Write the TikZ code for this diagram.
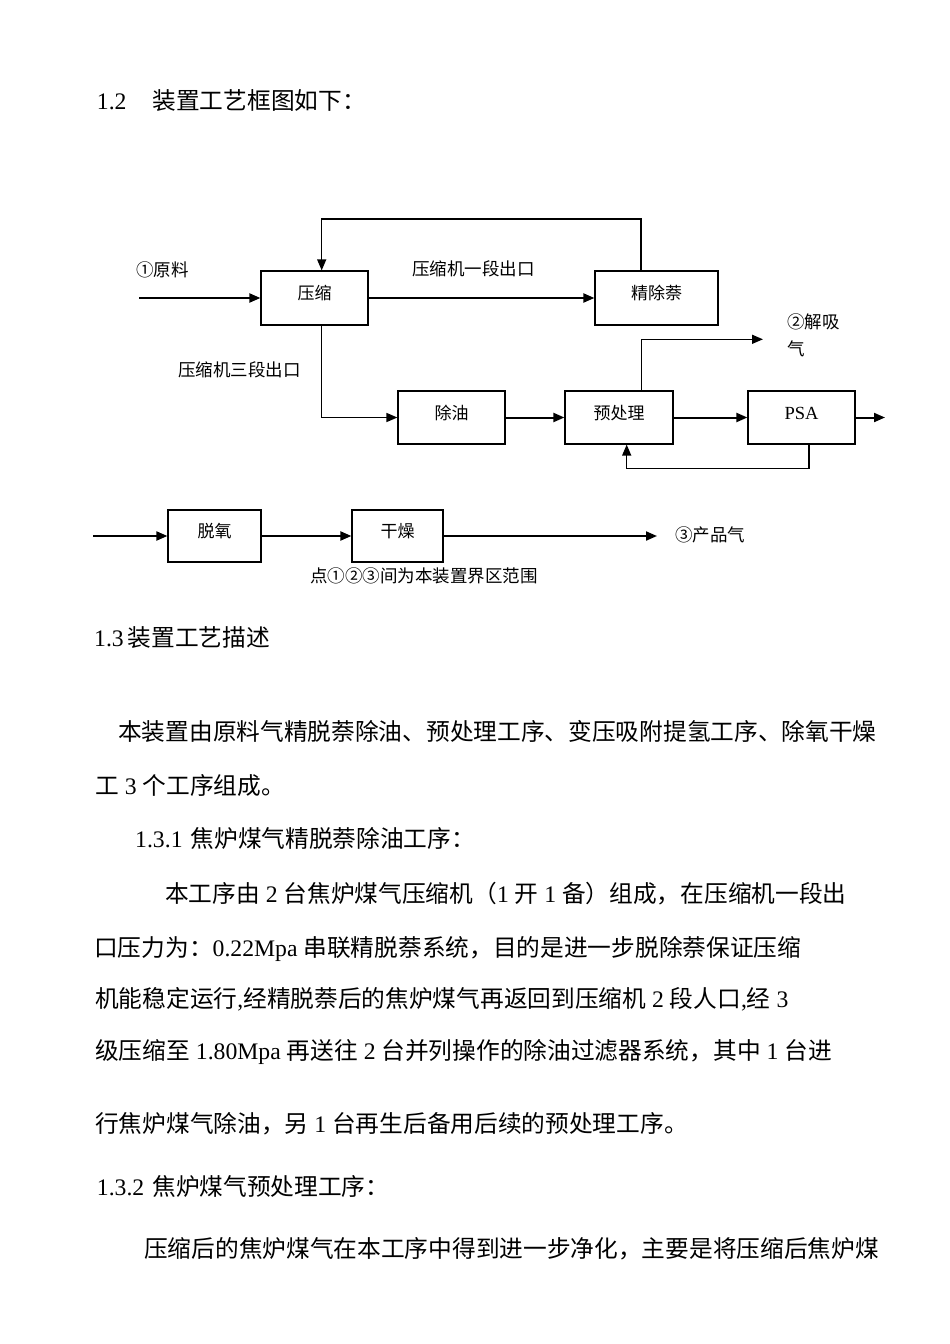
\documentclass[tikz,border=0pt]{standalone}
\usepackage{fontspec}
\setmainfont{Noto Sans CJK SC}
\newfontfamily\latn{Liberation Serif}
\usetikzlibrary{arrows.meta}
\newcommand\Lt[1]{{\latn #1}}
\tikzset{
  box/.style={draw=black, line width=1.2pt, inner sep=0pt, text height=13pt, text depth=10pt, font=\fontsize{17}{20}\selectfont},
  flowA/.style={line width=2pt, -{Triangle[length=11pt,width=9pt]}},
  flowB/.style={line width=1.4pt, -{Triangle[length=11pt,width=9pt]}},
  lab/.style={font=\fontsize{17.5}{27}\selectfont, inner sep=0pt, anchor=base west},
  body/.style={font=\fontsize{23.7}{28}\selectfont, anchor=base west, inner sep=0pt},
}
\begin{document}
\begin{tikzpicture}[x=1pt,y=-1pt]
\useasboundingbox[fill=white] (0,0) rectangle (950,1344);

% ---- diagram boxes ----
\node[box, minimum width=107pt, minimum height=54pt] (ys)  at (314.5,298) {压缩};
\node[box, minimum width=123pt, minimum height=54pt] (jcn) at (656.5,298) {精除萘};
\node[box, minimum width=107pt, minimum height=53pt] (cy)  at (451.5,417.5) {除油};
\node[box, minimum width=108pt, minimum height=53pt] (yc)  at (619,417.5) {预处理};
\node[box, minimum width=107pt, minimum height=53pt, text height=13pt, text depth=9pt, font=\latn\fontsize{18.5}{22}\selectfont] (psa) at (801.5,417.5) {PSA};
\node[box, minimum width=93pt, minimum height=52pt] (ty) at (214.5,536) {脱氧};
\node[box, minimum width=91pt, minimum height=52pt] (gz) at (397.5,536) {干燥};

% ---- helper coordinates ----
\coordinate (in1) at (139,298);
\coordinate (fb1) at (641,219);
\coordinate (fb2) at (321.7,219);
\coordinate (c1) at (321.7,417.5);
\coordinate (out1) at (885,417.5);
\coordinate (d1) at (641.7,339.3);
\coordinate (d2) at (763,339.3);
\coordinate (e1) at (809,468.7);
\coordinate (e2) at (626.7,468.7);
\coordinate (r1) at (93,536);
\coordinate (r2) at (657,536);

% ---- connectors ----
\draw[flowA] (in1) -- (ys.west);
\draw[flowA] (ys.east) -- (jcn.west);
\draw[flowB] (jcn.north -| fb1) -- (fb1) -- (fb2) -- (ys.north -| fb2);
\draw[flowB] (ys.south -| c1) -- (c1) -- (cy.west);
\draw[flowA] (cy.east) -- (yc.west);
\draw[flowA] (yc.east) -- (psa.west);
\draw[flowA] (psa.east) -- (out1);
\draw[flowB] (yc.north -| d1) -- (d1) -- (d2);
\draw[flowB] (psa.south -| e1) -- (e1) -- (e2) -- (yc.south -| e2);
\draw[flowA] (r1) -- (ty.west);
\draw[flowA] (ty.east) -- (gz.west);
\draw[flowA] (gz.east) -- (r2);

% ---- diagram labels ----
\node[lab] (l1) at (136,276.6) {①原料};
\node[lab] (l2) at (412,275.6) {压缩机一段出口};
\node[lab] (l3) at (178,376.6) {压缩机三段出口};
\node[lab, anchor=north west, align=left] (l4) at (787,313) {②解吸\\气};
\node[lab] (l5) at (675,541.6) {③产品气};
\node[lab] (l6) at (310,582.6) {点①②③间为本装置界区范围};

% ---- body text ----
\node[body] (t1) at (96.7,109) {\Lt{1.2}\hspace{26pt}装置工艺框图如下：};
\node[body] (t2) at (94,646) {\Lt{1.3}\hspace{4pt}装置工艺描述};
\node[body] (t3) at (118,740) {本装置由原料气精脱萘除油、预处理工序、变压吸附提氢工序、除氧干燥};
\node[body] (t4) at (95,794) {工\Lt{ 3 }个工序组成。};
\node[body] (t5) at (135,847) {\Lt{1.3.1}\hspace{8pt}焦炉煤气精脱萘除油工序：};
\node[body] (t6) at (165,902) {本工序由\Lt{ 2 }台焦炉煤气压缩机（\Lt{1 }开\Lt{ 1 }备）组成，在压缩机一段出};
\node[body] (t7) at (94,956) {口压力为：\Lt{0.22Mpa }串联精脱萘系统，目的是进一步脱除萘保证压缩};
\node[body] (t8) at (95,1007) {机能稳定运行\Lt{,}经精脱萘后的焦炉煤气再返回到压缩机\Lt{ 2 }段人口\Lt{,}经\Lt{ 3}};
\node[body] (t9) at (95,1059) {级压缩至\Lt{ 1.80Mpa }再送往\Lt{ 2 }台并列操作的除油过滤器系统，其中\Lt{ 1 }台进};
\node[body] (t10) at (95,1132) {行焦炉煤气除油，另\Lt{ 1 }台再生后备用后续的预处理工序。};
\node[body] (t11) at (96.7,1195) {\Lt{1.3.2}\hspace{8pt}焦炉煤气预处理工序：};
\node[body] (t12) at (144,1257) {压缩后的焦炉煤气在本工序中得到进一步净化，主要是将压缩后焦炉煤};
\end{tikzpicture}
\end{document}
